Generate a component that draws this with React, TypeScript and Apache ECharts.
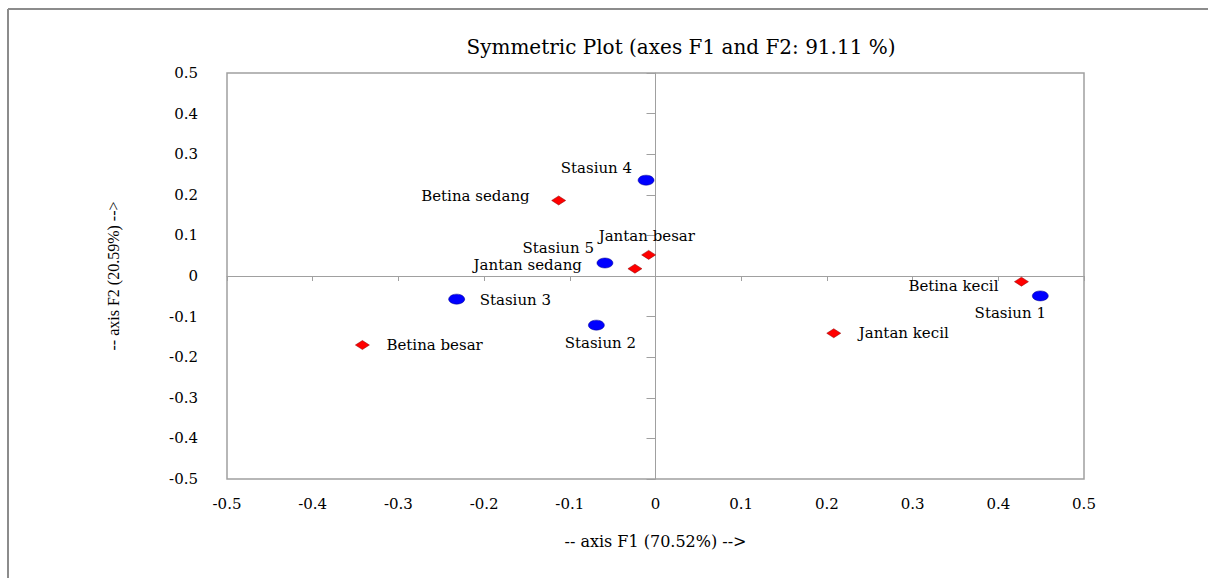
import React, { useEffect, useRef } from "react";
import * as echarts from "echarts";

const titleText = "Symmetric Plot (axes F1 and F2: 91.11 %)";
const xAxisName = "-- axis F1 (70.52%) -->";
const yAxisName = "-- axis F2 (20.59%) -->";

const stationNames = ["Stasiun 1", "Stasiun 2", "Stasiun 3", "Stasiun 4", "Stasiun 5"];
const stationF1 = [0.449, -0.069, -0.232, -0.011, -0.059];
const stationF2 = [-0.049, -0.121, -0.057, 0.236, 0.032];

const groupNames = [
  "Betina besar",
  "Betina kecil",
  "Betina sedang",
  "Jantan besar",
  "Jantan kecil",
  "Jantan sedang",
];
const groupF1 = [-0.342, 0.427, -0.113, -0.008, 0.208, -0.024];
const groupF2 = [-0.17, -0.014, 0.186, 0.052, -0.141, 0.018];

// label placement: [dx, dy, align]
const stationLabelPlace: [number, number, string][] = [
  [-30, 17, "center"],
  [4, 18, "center"],
  [23, 1, "left"],
  [-14, -12, "right"],
  [-11, -15, "right"],
];
const groupLabelPlace: [number, number, string][] = [
  [24, 0, "left"],
  [-23, 4, "right"],
  [-29, -4, "right"],
  [-50, -19, "left"],
  [25, 0, "left"],
  [-53, -4, "right"],
];

const serif = "'DejaVu Serif', 'Liberation Serif', serif";

function buildData(names: string[], xs: number[], ys: number[], place: [number, number, string][]) {
  return names.map((n, i) => ({
    name: n,
    value: [xs[i], ys[i]],
    label: {
      show: true,
      formatter: n,
      position: "inside",
      offset: [place[i][0], place[i][1]],
      align: place[i][2],
      verticalAlign: "middle",
      color: "#000",
      fontFamily: serif,
      fontSize: 15,
    },
  }));
}

export default function App() {
  const ref = useRef<HTMLDivElement>(null);
  useEffect(() => {
    if (!ref.current) return;
    const chart = echarts.init(ref.current, undefined, { renderer: "svg" });
    const gray = "#a0a0a0";
    const labelStyle = { color: "#000", fontFamily: serif, fontSize: 15 };
    chart.setOption({
      animation: false,
      backgroundColor: "#fff",
      title: {
        text: titleText,
        left: 676,
        top: 32,
        textAlign: "center",
        textStyle: { color: "#000", fontFamily: serif, fontSize: 20, fontWeight: "normal" },
      },
      graphic: [
        { type: "line", shape: { x1: 8, y1: 9, x2: 1208, y2: 9 }, style: { stroke: "#8c8c8c", lineWidth: 2 } },
        { type: "line", shape: { x1: 8, y1: 9, x2: 8, y2: 578 }, style: { stroke: "#8c8c8c", lineWidth: 2 } },
      ],
      grid: {
        left: 227,
        top: 73,
        width: 857,
        height: 406,
        show: true,
        borderColor: gray,
        borderWidth: 1.5,
        backgroundColor: "transparent",
      },
      xAxis: [
        {
          type: "value",
          min: -0.5,
          max: 0.5,
          interval: 0.1,
          position: "bottom",
          axisLine: { show: false, onZero: false },
          axisTick: { show: false },
          splitLine: { show: false },
          axisLabel: { ...labelStyle, margin: 17 },
          name: xAxisName,
          nameLocation: "middle",
          nameGap: 54,
          nameTextStyle: { color: "#000", fontFamily: serif, fontSize: 16 },
        },
        {
          type: "value",
          min: -0.5,
          max: 0.5,
          interval: 0.1,
          position: "bottom",
          axisLine: { show: true, onZero: true, onZeroAxisIndex: 1, lineStyle: { color: gray, width: 1 } },
          axisTick: { show: true, length: 5, lineStyle: { color: gray } },
          splitLine: { show: false },
          axisLabel: { show: false },
        },
      ],
      yAxis: [
        {
          type: "value",
          min: -0.5,
          max: 0.5,
          interval: 0.1,
          position: "left",
          axisLine: { show: false, onZero: false },
          axisTick: { show: false },
          splitLine: { show: false },
          axisLabel: { ...labelStyle, margin: 29 },
          name: yAxisName,
          nameLocation: "middle",
          nameGap: 106,
          nameTextStyle: { color: "#000", fontFamily: "'Liberation Serif', serif", fontSize: 16 },
        },
        {
          type: "value",
          min: -0.5,
          max: 0.5,
          interval: 0.1,
          position: "left",
          axisLine: { show: true, onZero: true, onZeroAxisIndex: 1, lineStyle: { color: gray, width: 1 } },
          axisTick: { show: true, length: 9, lineStyle: { color: gray } },
          splitLine: { show: false },
          axisLabel: { show: false },
        },
      ],
      series: [
        {
          type: "scatter",
          name: "Stations",
          xAxisIndex: 0,
          yAxisIndex: 0,
          symbol: "circle",
          symbolSize: [16, 10],
          itemStyle: { color: "#0000ff", borderColor: "#00008b", borderWidth: 0.5, opacity: 1 },
          data: buildData(stationNames, stationF1, stationF2, stationLabelPlace),
          z: 5,
        },
        {
          type: "scatter",
          name: "Groups",
          xAxisIndex: 0,
          yAxisIndex: 0,
          symbol: "diamond",
          symbolSize: [14, 9],
          itemStyle: { color: "#ff0000", borderColor: "#8b0000", borderWidth: 0.5, opacity: 1 },
          data: buildData(groupNames, groupF1, groupF2, groupLabelPlace),
          z: 5,
        },
      ],
    });
    return () => chart.dispose();
  }, []);
  return (
    <div
      ref={ref}
      style={{ position: "absolute", left: 0, top: 0, width: 1208, height: 578 }}
    />
  );
}
